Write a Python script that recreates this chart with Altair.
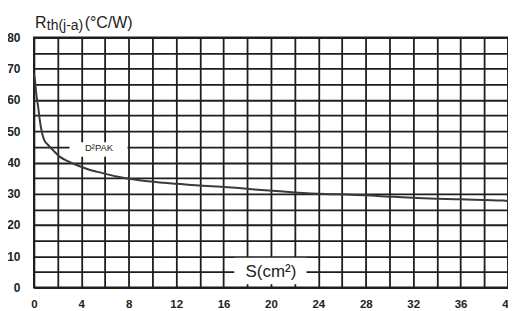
import altair as alt
import pandas as pd

# curve data
s_cm2 = [0, 0.1, 0.2, 0.35, 0.5, 0.73, 0.87, 1.2, 1.6, 2.2, 3.0, 3.6, 4.5, 5.8, 7.0,
         8.9, 11, 13, 15, 17.3, 19.8, 22, 24.6, 26.8, 29, 32.4, 36, 39.6, 40]
rth = [68.5, 66, 62, 58, 53.5, 48.8, 47.2, 45.6, 44, 41.8, 40.2, 39.2, 37.9, 36.6, 35.5,
       34.3, 33.5, 32.9, 32.4, 31.8, 31.0, 30.4, 29.9, 29.7, 29.3, 28.6, 28.2, 27.8, 27.7]

x_grid = list(range(0, 41, 2))
y_grid = list(range(0, 81, 5))

# annotation boxes (data units)
box_x = [3.0, 16.9]
box_x2 = [7.9, 23.0]
box_y = [41.8, 1.0]
box_y2 = [46.5, 9.5]
box_text = ["D²PAK", "S(cm²)"]
box_tx = [5.5, 20.0]
box_ty = [44.6, 5.0]
box_size = [9.5, 17]

curve = pd.DataFrame({"S": s_cm2, "R": rth})
boxes = pd.DataFrame({"x": box_x, "x2": box_x2, "y": box_y, "y2": box_y2,
                      "t": box_text, "tx": box_tx, "ty": box_ty, "fs": box_size})

FONT = "Liberation Sans"
GRID = "#1e1e1e"

xscale = alt.Scale(domain=[0, 40], nice=False, zero=False)
yscale = alt.Scale(domain=[0, 80], nice=False, zero=False)

xaxis = alt.Axis(values=x_grid, labelExpr="datum.value % 4 == 0 ? datum.label : ''",
                 grid=True, gridColor=GRID, gridWidth=1.8, gridOpacity=1,
                 ticks=False, domain=False, title=None, labelPadding=11,
                 labelFont=FONT, labelFontSize=11.5, labelFontWeight="bold",
                 labelColor="#222", labelFlush=False, labelOverlap=False)
yaxis = alt.Axis(values=y_grid, labelExpr="datum.value % 10 == 0 ? datum.label : ''",
                 grid=True, gridColor=GRID, gridWidth=1.8, gridOpacity=1,
                 ticks=False, domain=False, title=None, labelPadding=14,
                 labelFont=FONT, labelFontSize=12, labelFontWeight="bold",
                 labelColor="#222", labelFlush=False, labelOverlap=False)

rects = alt.Chart(boxes).mark_rect(color="white", opacity=1).encode(
    x=alt.X("x:Q", scale=xscale, axis=xaxis), x2="x2:Q",
    y=alt.Y("y:Q", scale=yscale, axis=yaxis), y2="y2:Q",
)

line = alt.Chart(curve).mark_line(color="#3a3a3a", strokeWidth=2, interpolate="monotone").encode(
    x=alt.X("S:Q", scale=xscale, axis=xaxis),
    y=alt.Y("R:Q", scale=yscale, axis=yaxis),
)

texts = alt.Chart(boxes).mark_text(font=FONT, color="#222", align="center", baseline="middle").encode(
    x=alt.X("tx:Q", scale=xscale, axis=xaxis), y=alt.Y("ty:Q", scale=yscale, axis=yaxis),
    text="t:N", size=alt.Size("fs:Q", scale=None, legend=None),
)

title_r = alt.Chart(pd.DataFrame({"t": ["R"]})).mark_text(
    font=FONT, fontSize=16, color="#222", align="left", baseline="alphabetic", clip=False
).encode(x=alt.value(1), y=alt.value(-10), text="t:N")
title_sub = alt.Chart(pd.DataFrame({"t": ["th(j-a)"]})).mark_text(
    font=FONT, fontSize=14, color="#222", align="left", baseline="alphabetic", clip=False
).encode(x=alt.value(13), y=alt.value(-8), text="t:N")
title_unit = alt.Chart(pd.DataFrame({"t": ["(°C/W)"]})).mark_text(
    font=FONT, fontSize=16, color="#222", align="left", baseline="alphabetic", clip=False
).encode(x=alt.value(51), y=alt.value(-10), text="t:N")

chart = alt.layer(rects, line, texts, title_r, title_sub, title_unit).properties(
    width=476, height=251,
    autosize=alt.AutoSizeParams(type="none"),
    padding={"left": 26, "top": 29, "right": 0, "bottom": 24},
    background="white",
).configure_view(stroke=GRID, strokeWidth=1.8)

chart.save("out.html", embed_options={"renderer": "svg", "actions": False})
